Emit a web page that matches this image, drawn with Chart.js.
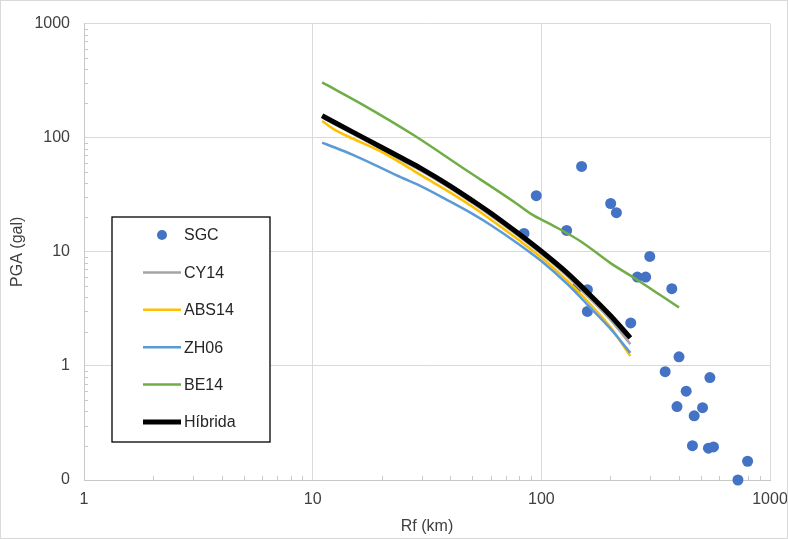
<!DOCTYPE html>
<html>
<head>
<meta charset="utf-8">
<title>PGA vs Rf</title>
<script src="https://cdn.jsdelivr.net/npm/chart.js@4.4.0/dist/chart.umd.min.js"></script>
<style>
  html, body { margin: 0; padding: 0; background: #fff; }
  canvas { display: block; }
</style>
</head>
<body>
<canvas id="chart" width="788" height="539"></canvas>
<script>
// observed records (SGC)
const rfSGC = [84, 95, 150, 129, 201, 213, 298, 263, 286, 372, 144, 159, 159, 246,
  400, 348, 546, 430, 392, 507, 466, 458, 538, 566, 798, 724];
const pgaSGC = [14.5, 31, 56, 15.4, 26.5, 22, 9.1, 6.0, 6.0, 4.75, 4.9, 4.66, 3.0, 2.38,
  1.2, 0.89, 0.79, 0.60, 0.44, 0.43, 0.365, 0.20, 0.19, 0.195, 0.146, 0.1];

// attenuation models
const rfModels = [11, 12.5, 15, 20, 25, 30, 40, 50, 60, 80, 100, 130, 160, 200, 245];
const pgaCY14 = [150, 131, 108, 79, 62, 51, 36, 26.8, 20.8, 13.6, 9.6, 6.1, 4.05, 2.55, 1.55];
const pgaABS14 = [140, 117, 98, 75, 58, 46.5, 33, 24.8, 19.2, 12.6, 8.9, 5.55, 3.65, 2.2, 1.22];
const pgaZH06 = [90.5, 82, 70.6, 54.1, 43.9, 37.3, 27.5, 21.5, 17.2, 11.6, 8.3, 5.2, 3.4, 2.13, 1.3];
const pgaHibrida = [156, 136, 112, 82.6, 65, 53.3, 37.7, 28.1, 21.9, 14.3, 10.1, 6.5, 4.36, 2.78, 1.76];
const rfBE14 = [11, 16.6, 27.5, 45.6, 75.6, 90, 110, 150, 200, 260, 330, 400];
const pgaBE14 = [305, 194, 106, 54, 27.6, 21.5, 17.4, 12.2, 8.0, 5.75, 4.2, 3.25];

// axis ticks
const xTicks = [1, 10, 100, 1000];
const xTickText = ['1', '10', '100', '1000'];
const yTicks = [0.1, 1, 10, 100, 1000];
const yTickText = ['0', '1', '10', '100', '1000'];

const toPoints = (xs, ys) => xs.map((x, i) => ({ x: x, y: ys[i] }));
const sameValue = (a, b) => Math.abs(a - b) / b < 1e-6;

Chart.defaults.font.family = "'Liberation Sans', Arial, sans-serif";
Chart.defaults.font.size = 16;
Chart.defaults.color = '#404040';

const lineSet = (label, xs, ys, color, width, order) => ({
  label: label,
  data: toPoints(xs, ys),
  showLine: true,
  borderColor: color,
  backgroundColor: color,
  borderWidth: width,
  pointRadius: 0,
  cubicInterpolationMode: 'monotone',
  order: order,
});

// minor tick marks drawn inside the plot, at 2..9 of each decade
const minorTicks = {
  id: 'minorTicks',
  beforeDatasetsDraw(chart) {
    const { ctx, chartArea, scales } = chart;
    ctx.save();
    ctx.strokeStyle = '#c8c8c8';
    ctx.lineWidth = 1;
    ctx.beginPath();
    for (let i = 0; i < xTicks.length - 1; i++) {
      for (let k = 2; k < 10; k++) {
        const px = Math.round(scales.x.getPixelForValue(xTicks[i] * k)) + 0.5;
        ctx.moveTo(px, chartArea.bottom);
        ctx.lineTo(px, chartArea.bottom - 4);
      }
    }
    for (let i = 0; i < yTicks.length - 1; i++) {
      for (let k = 2; k < 10; k++) {
        const py = Math.round(scales.y.getPixelForValue(yTicks[i] * k)) + 0.5;
        ctx.moveTo(chartArea.left, py);
        ctx.lineTo(chartArea.left + 4, py);
      }
    }
    ctx.stroke();
    ctx.restore();
  },
};

// boxed legend sitting inside the plot, like the original
const boxLegend = {
  id: 'boxLegend',
  afterDraw(chart) {
    const { ctx } = chart;
    const box = { x: 112, y: 217, w: 158, h: 225 };
    ctx.save();
    ctx.fillStyle = '#fff';
    ctx.fillRect(box.x, box.y, box.w, box.h);
    ctx.strokeStyle = '#000';
    ctx.lineWidth = 1.3;
    ctx.strokeRect(box.x, box.y, box.w, box.h);
    ctx.font = "16px 'Liberation Sans', Arial, sans-serif";
    ctx.textBaseline = 'middle';
    ctx.textAlign = 'left';
    chart.data.datasets.forEach((ds, i) => {
      const cy = 235 + i * 37.4;
      if (ds.showLine) {
        ctx.strokeStyle = ds.borderColor;
        ctx.lineWidth = ds.borderWidth;
        ctx.beginPath();
        ctx.moveTo(143, cy);
        ctx.lineTo(181, cy);
        ctx.stroke();
      } else {
        ctx.fillStyle = ds.backgroundColor;
        ctx.beginPath();
        ctx.arc(162, cy, 5, 0, Math.PI * 2);
        ctx.fill();
      }
      ctx.fillStyle = '#262626';
      ctx.fillText(ds.label, 184, cy + 1);
    });
    // thin outer frame of the chart
    ctx.strokeStyle = '#d9d9d9';
    ctx.lineWidth = 1;
    ctx.strokeRect(0.5, 0.5, chart.width - 1, chart.height - 1);
    ctx.restore();
  },
};

new Chart(document.getElementById('chart'), {
  type: 'scatter',
  data: {
    datasets: [
      {
        label: 'SGC',
        data: toPoints(rfSGC, pgaSGC),
        showLine: false,
        backgroundColor: '#4472c4',
        borderColor: '#4472c4',
        pointRadius: 5.5,
        pointBorderWidth: 0,
        clip: false, // the dot sitting on the bottom axis is drawn whole
        order: 10,
      },
      lineSet('CY14', rfModels, pgaCY14, '#a5a5a5', 2.5, 5),
      lineSet('ABS14', rfModels, pgaABS14, '#ffc000', 2.5, 4),
      lineSet('ZH06', rfModels, pgaZH06, '#5b9bd5', 2.5, 3),
      lineSet('BE14', rfBE14, pgaBE14, '#70ad47', 2.5, 2),
      lineSet('Híbrida', rfModels, pgaHibrida, '#000000', 5, 1),
    ],
  },
  options: {
    responsive: false,
    animation: false,
    layout: { padding: { top: 22, right: 18, bottom: 0, left: 0 } },
    plugins: {
      legend: { display: false },
      tooltip: { enabled: false },
    },
    scales: {
      x: {
        type: 'logarithmic',
        min: 1,
        max: 1000,
        afterBuildTicks: (axis) => { axis.ticks = xTicks.map((v) => ({ value: v })); },
        afterFit: (axis) => {
          axis.height = 59;
          axis.paddingLeft = 0;
          axis.paddingRight = 0;
        },
        ticks: {
          autoSkip: false,
          maxRotation: 0,
          padding: 10,
          callback: (value) => {
            const i = xTicks.findIndex((t) => sameValue(value, t));
            return i >= 0 ? xTickText[i] : '';
          },
        },
        grid: { color: '#d9d9d9', drawTicks: false },
        border: { color: '#c8c8c8' },
        title: { display: true, text: 'Rf (km)', color: '#404040', padding: { top: 0, bottom: 3 } },
      },
      y: {
        type: 'logarithmic',
        min: 0.1,
        max: 1000,
        afterBuildTicks: (axis) => { axis.ticks = yTicks.map((v) => ({ value: v })); },
        afterFit: (axis) => { axis.width = 84; },
        ticks: {
          autoSkip: false,
          padding: 14,
          callback: (value) => {
            const i = yTicks.findIndex((t) => sameValue(value, t));
            return i >= 0 ? yTickText[i] : '';
          },
        },
        grid: { color: '#d9d9d9', drawTicks: false },
        border: { color: '#c8c8c8' },
        title: { display: true, text: 'PGA (gal)', color: '#404040', padding: { top: 8, bottom: 0 } },
      },
    },
  },
  plugins: [minorTicks, boxLegend],
});
</script>
</body>
</html>
